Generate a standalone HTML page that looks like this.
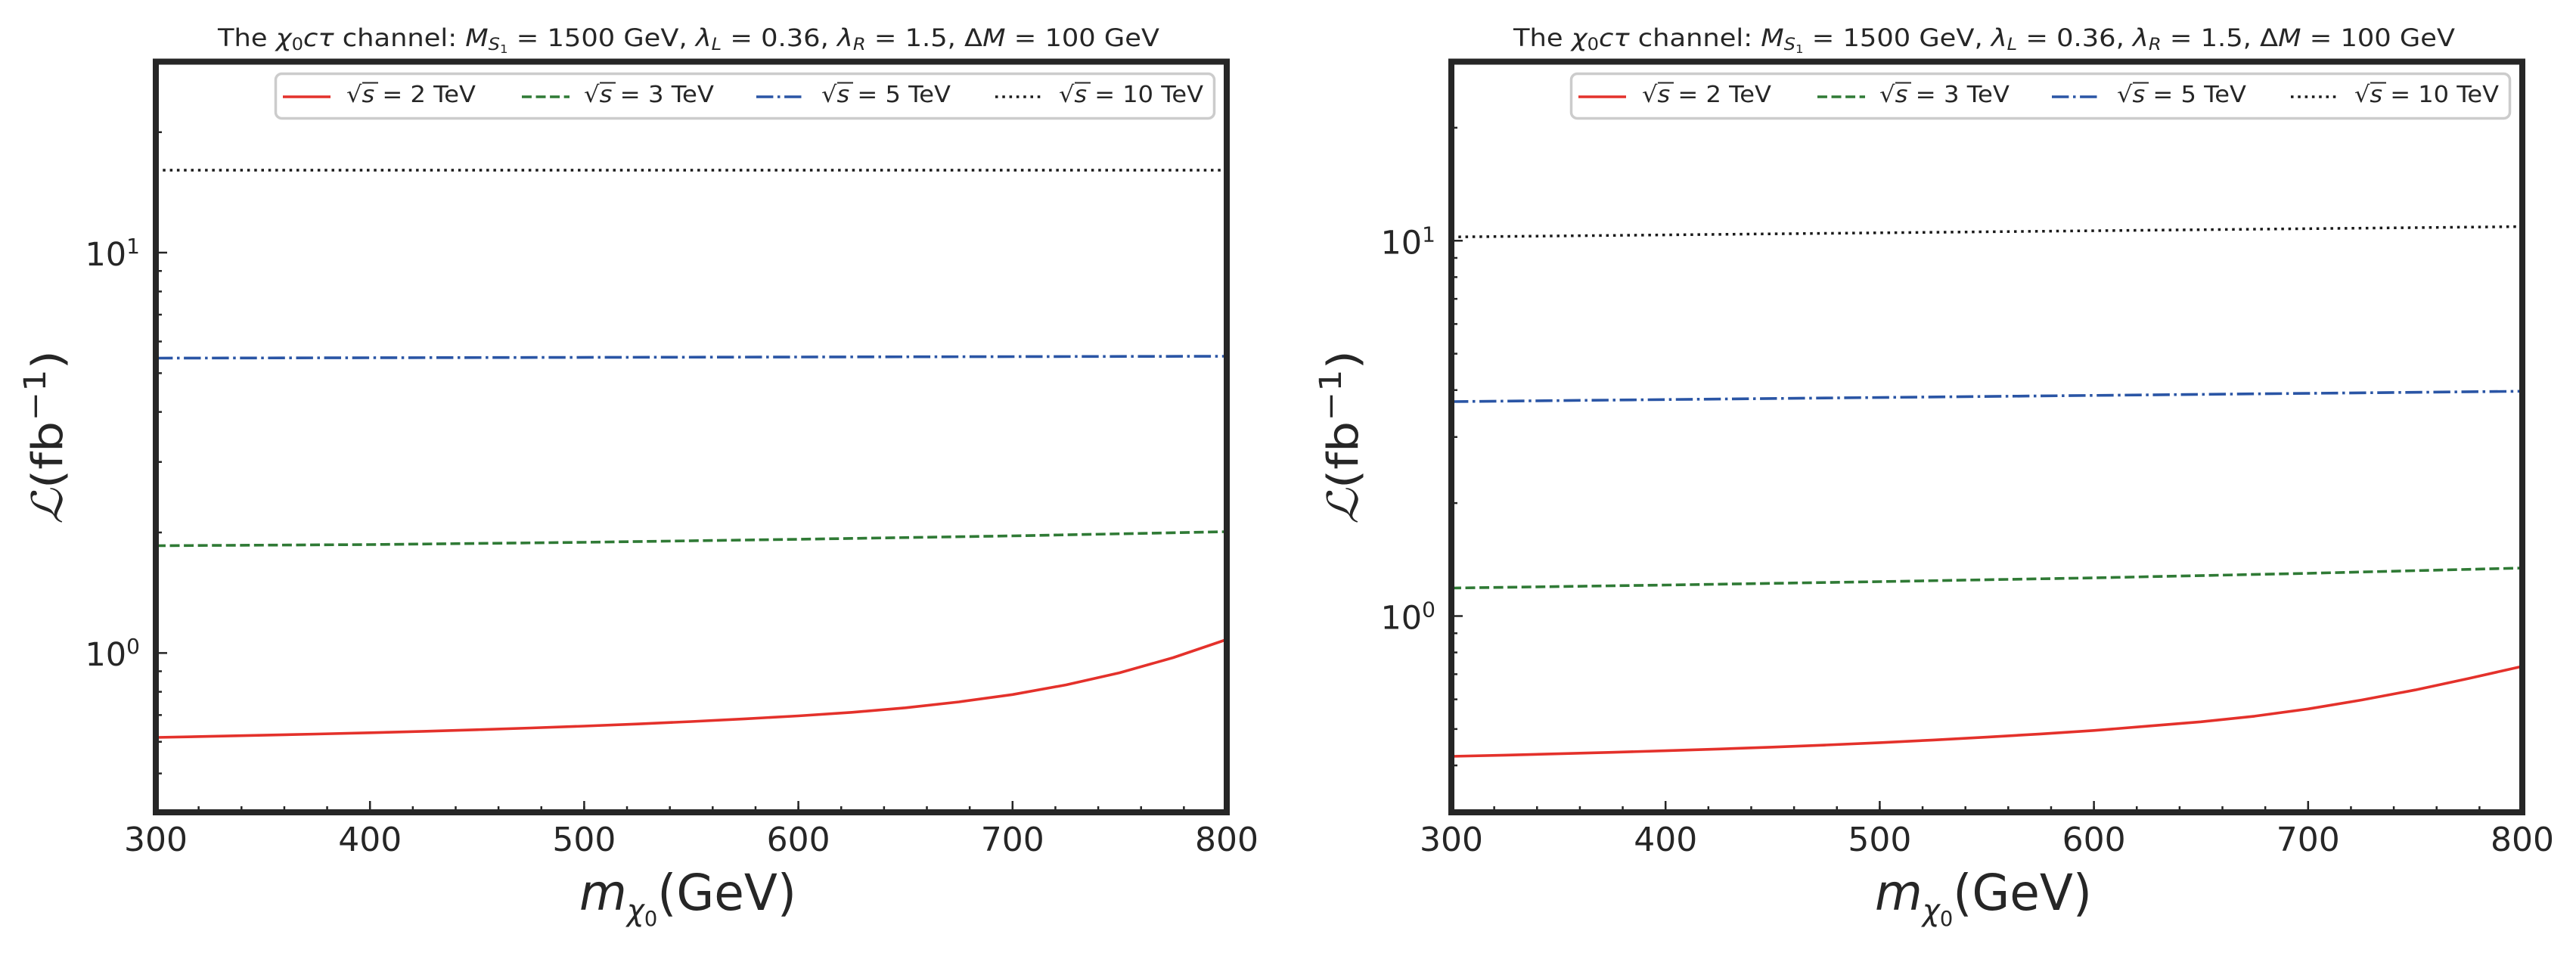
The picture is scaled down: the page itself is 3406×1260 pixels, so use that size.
<!DOCTYPE html>
<html>
<head>
<meta charset="utf-8">
<style>
  html,body{margin:0;padding:0;background:#fff;}
  svg{display:block;}
  text{font-family:"DejaVu Sans","Liberation Sans",sans-serif;fill:#262626;}
</style>
</head>
<body>
<svg width="3406" height="1260" viewBox="0 0 3406 1260" xmlns="http://www.w3.org/2000/svg">
<rect x="0" y="0" width="3406" height="1260" fill="#ffffff"/>

<!-- ================= LEFT PANEL ================= -->
<g fill="none" stroke-width="3.6" stroke-linejoin="round">
  <polyline stroke="#1a1a1a" stroke-width="3.5" stroke-dasharray="3.5 5.8" points="206,225 1622,225"/>
  <polyline stroke="#2a55a5" stroke-dasharray="22.4 5.6 3.5 5.6" points="206,473.5 1622,471"/>
  <polyline stroke="#2f7a35" stroke-dasharray="12.95 5.6" points="206,721.5 489.2,720 772.4,717 1055.6,713 1338.8,708.5 1622,703"/>
  <polyline stroke="#e4312b" points="206,975 276.8,973.6 347.6,972.1 418.4,970.5 489.2,968.8 560,966.9 630.8,964.8 701.6,962.5 772.4,960 843.2,957.2 914,954 984.8,950.4 1055.6,946.5 1126.4,941.8 1197.2,935.8 1268,928 1338.8,918.3 1409.6,905.5 1480.4,889.5 1551.2,869.5 1622,845.5"/>
</g>

<rect x="364.5" y="97.5" width="1241" height="59" rx="8" ry="8" fill="#ffffff" stroke="#cccccc" stroke-width="3.5"/>
<g fill="none" stroke-width="3.6">
  <line x1="374" y1="128" x2="437" y2="128" stroke="#e4312b"/>
  <line x1="690" y1="128" x2="753" y2="128" stroke="#2f7a35" stroke-dasharray="12.95 5.6"/>
  <line x1="1000" y1="128" x2="1063" y2="128" stroke="#2a55a5" stroke-dasharray="22.4 5.6 3.5 5.6"/>
  <line x1="1316" y1="128" x2="1379" y2="128" stroke="#1a1a1a" stroke-width="3.5" stroke-dasharray="3.5 5.8"/>
</g>
<g font-size="30">
  <text x="458" y="135" textLength="171" lengthAdjust="spacingAndGlyphs">√<tspan font-style="italic">s</tspan> = 2 TeV</text>
  <text x="772" y="135" textLength="172" lengthAdjust="spacingAndGlyphs">√<tspan font-style="italic">s</tspan> = 3 TeV</text>
  <text x="1086" y="135" textLength="171" lengthAdjust="spacingAndGlyphs">√<tspan font-style="italic">s</tspan> = 5 TeV</text>
  <text x="1400" y="135" textLength="191" lengthAdjust="spacingAndGlyphs">√<tspan font-style="italic">s</tspan> = 10 TeV</text>
</g>
<g stroke="#262626" stroke-width="2">
  <line x1="479" y1="109.5" x2="500" y2="109.5"/>
  <line x1="793" y1="109.5" x2="814" y2="109.5"/>
  <line x1="1107" y1="109.5" x2="1128" y2="109.5"/>
  <line x1="1421" y1="109.5" x2="1442" y2="109.5"/>
</g>

<g stroke="#262626" fill="none">
  <line x1="204.75" y1="1070" x2="1623" y2="1070" stroke-width="8" stroke-dasharray="2.5 54.14"/>
  <line x1="204.75" y1="1066.5" x2="1623" y2="1066.5" stroke-width="15" stroke-dasharray="2.5 280.7"/>
  <path stroke-width="2.5" d="M206 334.04h15 M206 863.34h15"/>
  <path stroke-width="2.5" d="M206 1022.68h8 M206 980.76h8 M206 945.33h8 M206 914.63h8 M206 887.56h8 M206 704h8 M206 610.8h8 M206 544.67h8 M206 493.37h8 M206 451.46h8 M206 416.03h8 M206 385.33h8 M206 358.26h8 M206 174.7h8"/>
</g>
<rect x="206" y="81.5" width="1416" height="992.5" fill="none" stroke="#262626" stroke-width="8"/>

<g font-size="44" text-anchor="middle">
  <text x="206" y="1125">300</text>
  <text x="489.2" y="1125">400</text>
  <text x="772.4" y="1125">500</text>
  <text x="1055.6" y="1125">600</text>
  <text x="1338.8" y="1125">700</text>
  <text x="1622" y="1125">800</text>
</g>
<g font-size="43" text-anchor="end">
  <text x="185" y="351">10<tspan font-size="28" dy="-16">1</tspan></text>
  <text x="185" y="880">10<tspan font-size="28" dy="-16">0</tspan></text>
</g>

<text x="766" y="1203" font-size="66" textLength="287" lengthAdjust="spacingAndGlyphs"><tspan font-style="italic">m</tspan><tspan font-size="40" dy="14" font-style="italic">χ</tspan><tspan font-size="28" dy="7">0</tspan><tspan dy="-21">(GeV)</tspan></text>
<text transform="translate(82,578) rotate(-90)" text-anchor="middle" font-size="56" textLength="230" lengthAdjust="spacingAndGlyphs"><tspan font-style="italic" font-family="DejaVu Serif, serif">ℒ</tspan>(fb<tspan font-size="40" dy="-22">−1</tspan><tspan dy="22">)</tspan></text>

<text x="288" y="61" font-size="32" textLength="1245" lengthAdjust="spacingAndGlyphs">The <tspan font-style="italic">χ</tspan><tspan font-size="22" dy="5">0</tspan><tspan dy="-5" font-style="italic">cτ</tspan> channel: <tspan font-style="italic">M</tspan><tspan font-style="italic" font-size="22" dy="5">S</tspan><tspan font-size="15" dy="4">1</tspan><tspan dy="-9"> = 1500 GeV, </tspan><tspan font-style="italic">λ</tspan><tspan font-style="italic" font-size="22" dy="5">L</tspan><tspan dy="-5"> = 0.36, </tspan><tspan font-style="italic">λ</tspan><tspan font-style="italic" font-size="22" dy="5">R</tspan><tspan dy="-5"> = 1.5, </tspan>Δ<tspan font-style="italic">M</tspan> = 100 GeV</text>

<!-- ================= RIGHT PANEL ================= -->
<g fill="none" stroke-width="3.6" stroke-linejoin="round">
  <polyline stroke="#1a1a1a" stroke-width="3.5" stroke-dasharray="3.5 5.8" points="1919,313.3 3335,299.6"/>
  <polyline stroke="#2a55a5" stroke-dasharray="22.4 5.6 3.5 5.6" points="1919,531 3335,517.3"/>
  <polyline stroke="#2f7a35" stroke-dasharray="12.95 5.6" points="1919,777.5 2202.2,773.5 2485.4,769 2768.6,764 3051.8,758 3335,751"/>
  <polyline stroke="#e4312b" points="1919,1000 1989.8,998.4 2060.6,996.6 2131.4,994.7 2202.2,992.6 2273,990.3 2343.8,987.8 2414.6,985 2485.4,981.9 2556.2,978.4 2627,974.6 2697.8,970.4 2768.6,965.8 2839.4,960.1 2910.2,954.3 2981,946.9 3051.8,937.3 3122.6,925.5 3193.4,912.2 3264.2,897 3335,881"/>
</g>

<rect x="2077.5" y="97.5" width="1241" height="59" rx="8" ry="8" fill="#ffffff" stroke="#cccccc" stroke-width="3.5"/>
<g fill="none" stroke-width="3.6">
  <line x1="2087" y1="128" x2="2150" y2="128" stroke="#e4312b"/>
  <line x1="2403" y1="128" x2="2466" y2="128" stroke="#2f7a35" stroke-dasharray="12.95 5.6"/>
  <line x1="2713" y1="128" x2="2776" y2="128" stroke="#2a55a5" stroke-dasharray="22.4 5.6 3.5 5.6"/>
  <line x1="3029" y1="128" x2="3092" y2="128" stroke="#1a1a1a" stroke-width="3.5" stroke-dasharray="3.5 5.8"/>
</g>
<g font-size="30">
  <text x="2171" y="135" textLength="171" lengthAdjust="spacingAndGlyphs">√<tspan font-style="italic">s</tspan> = 2 TeV</text>
  <text x="2485" y="135" textLength="172" lengthAdjust="spacingAndGlyphs">√<tspan font-style="italic">s</tspan> = 3 TeV</text>
  <text x="2799" y="135" textLength="171" lengthAdjust="spacingAndGlyphs">√<tspan font-style="italic">s</tspan> = 5 TeV</text>
  <text x="3113" y="135" textLength="191" lengthAdjust="spacingAndGlyphs">√<tspan font-style="italic">s</tspan> = 10 TeV</text>
</g>
<g stroke="#262626" stroke-width="2">
  <line x1="2192" y1="109.5" x2="2213" y2="109.5"/>
  <line x1="2506" y1="109.5" x2="2527" y2="109.5"/>
  <line x1="2820" y1="109.5" x2="2841" y2="109.5"/>
  <line x1="3134" y1="109.5" x2="3155" y2="109.5"/>
</g>

<g stroke="#262626" fill="none">
  <line x1="1917.75" y1="1070" x2="3336" y2="1070" stroke-width="8" stroke-dasharray="2.5 54.14"/>
  <line x1="1917.75" y1="1066.5" x2="3336" y2="1066.5" stroke-width="15" stroke-dasharray="2.5 280.7"/>
  <path stroke-width="2.5" d="M1919 318.27h15 M1919 814.52h15"/>
  <path stroke-width="2.5" d="M1919 1012h8 M1919 963.91h8 M1919 924.61h8 M1919 891.39h8 M1919 862.61h8 M1919 837.23h8 M1919 665.13h8 M1919 577.75h8 M1919 515.75h8 M1919 467.66h8 M1919 428.36h8 M1919 395.14h8 M1919 366.36h8 M1919 340.98h8 M1919 168.88h8"/>
</g>
<rect x="1919" y="81.5" width="1416" height="992.5" fill="none" stroke="#262626" stroke-width="8"/>

<g font-size="44" text-anchor="middle">
  <text x="1919" y="1125">300</text>
  <text x="2202.2" y="1125">400</text>
  <text x="2485.4" y="1125">500</text>
  <text x="2768.6" y="1125">600</text>
  <text x="3051.8" y="1125">700</text>
  <text x="3335" y="1125">800</text>
</g>
<g font-size="43" text-anchor="end">
  <text x="1898" y="335.3">10<tspan font-size="28" dy="-16">1</tspan></text>
  <text x="1898" y="831.5">10<tspan font-size="28" dy="-16">0</tspan></text>
</g>

<text x="2479" y="1203" font-size="66" textLength="287" lengthAdjust="spacingAndGlyphs"><tspan font-style="italic">m</tspan><tspan font-size="40" dy="14" font-style="italic">χ</tspan><tspan font-size="28" dy="7">0</tspan><tspan dy="-21">(GeV)</tspan></text>
<text transform="translate(1795,578) rotate(-90)" text-anchor="middle" font-size="56" textLength="230" lengthAdjust="spacingAndGlyphs"><tspan font-style="italic" font-family="DejaVu Serif, serif">ℒ</tspan>(fb<tspan font-size="40" dy="-22">−1</tspan><tspan dy="22">)</tspan></text>

<text x="2001" y="61" font-size="32" textLength="1245" lengthAdjust="spacingAndGlyphs">The <tspan font-style="italic">χ</tspan><tspan font-size="22" dy="5">0</tspan><tspan dy="-5" font-style="italic">cτ</tspan> channel: <tspan font-style="italic">M</tspan><tspan font-style="italic" font-size="22" dy="5">S</tspan><tspan font-size="15" dy="4">1</tspan><tspan dy="-9"> = 1500 GeV, </tspan><tspan font-style="italic">λ</tspan><tspan font-style="italic" font-size="22" dy="5">L</tspan><tspan dy="-5"> = 0.36, </tspan><tspan font-style="italic">λ</tspan><tspan font-style="italic" font-size="22" dy="5">R</tspan><tspan dy="-5"> = 1.5, </tspan>Δ<tspan font-style="italic">M</tspan> = 100 GeV</text>

</svg>
</body>
</html>
